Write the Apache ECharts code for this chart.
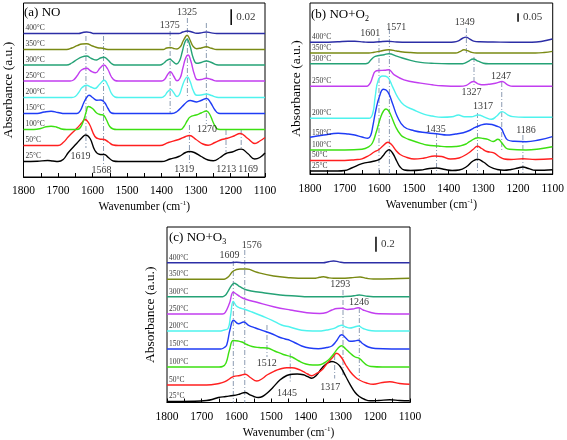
<!DOCTYPE html>
<html><head><meta charset="utf-8">
<script src="https://cdn.jsdelivr.net/npm/echarts@6/dist/echarts.min.js"></script>
<style>html,body{margin:0;padding:0;background:#fff}#c{width:567px;height:440px}</style>
</head><body><div id="c"></div>
<script>
// ---------- shared ----------
const temps = ['25°C','50°C','100°C','150°C','200°C','250°C','300°C','350°C','400°C'];
const tempColors = ['#000000','#ff1f1f','#3ce012','#1f3cf5','#4ff3ee','#c23ef0','#25a276','#7a8a14','#2c2ea6'];
const xMin = 1100, xMax = 1800, xStep = 100;

// ---------- panel (a) NO : [wavenumber, absorbance a.u. above own baseline] ----------
const offsetsA = [15.5,31.5,47.5,63.5,79.5,96,112,127.5,143.5];
const a25 = [[1800,0],[1760,0.3],[1730,1],[1715,0.5],[1700,0],[1685,2],[1670,9],[1646,18],[1630,24],[1620,26.5],[1607,23],[1593,11],[1578,7],[1566,7],[1554,4],[1540,0.5],[1525,0],[1400,0],[1375,2.5],[1350,5],[1330,9],[1319,10],[1305,9],[1285,5],[1265,1.5],[1250,0.8],[1230,4],[1213,8],[1195,9.5],[1169,12.4],[1150,8],[1130,2.5],[1115,4],[1100,8.5]];
const a50 = [[1800,0],[1700,0],[1685,3],[1670,8.7],[1646,17],[1630,23],[1622,26],[1610,22],[1593,9],[1580,6.5],[1566,6],[1554,3.5],[1540,0.5],[1525,0],[1405,0],[1380,3],[1350,6],[1330,9],[1319,10],[1300,6],[1280,1.5],[1265,0.3],[1245,3],[1225,6],[1211,7],[1190,9.5],[1172,12],[1150,7],[1129,2],[1115,4.5],[1100,8]];
const a100 = [[1800,0],[1770,0],[1750,1],[1735,2.8],[1720,3.3],[1705,2.5],[1690,0.5],[1675,0],[1645,0],[1635,2],[1625,10],[1618,18],[1612,23],[1600,21],[1588,16.5],[1578,15],[1569,14.5],[1560,10],[1550,3],[1540,0.5],[1530,0],[1345,0],[1335,3],[1325,9],[1317,12.5],[1300,14.5],[1285,16.5],[1270,18.5],[1260,15],[1250,7],[1240,1],[1230,0],[1100,0]];
const a150 = [[1800,0],[1760,0],[1740,1.5],[1720,2.3],[1700,1],[1680,0],[1645,0],[1635,3],[1625,11],[1617,16],[1610,18.3],[1600,16],[1588,13.3],[1576,13.5],[1565,11],[1555,5],[1545,0.5],[1535,0],[1370,0],[1355,2],[1340,7],[1325,12],[1317,13],[1298,11.5],[1285,13],[1269,15],[1258,11],[1245,3.5],[1235,0.3],[1225,0],[1100,0]];
const a200 = [[1800,0],[1660,0],[1650,1],[1640,5],[1630,10],[1617,12.3],[1605,10.5],[1593,9],[1580,13],[1566,17.3],[1555,12],[1545,4],[1535,0.5],[1525,0],[1400,0],[1390,2],[1383,5.5],[1373,8],[1365,5],[1355,1],[1348,3],[1340,11],[1332,18],[1325,20.6],[1317,16],[1308,7],[1298,2.3],[1285,2.5],[1270,3.5],[1255,2],[1240,0.3],[1230,0],[1100,0]];
const a250 = [[1800,0],[1665,0],[1655,1],[1645,5],[1632,11],[1617,12.7],[1605,10],[1591,8.3],[1578,13],[1567,16],[1556,12],[1545,4],[1535,0.5],[1525,0],[1400,0],[1390,2],[1383,6],[1374,9.3],[1365,5],[1355,0.3],[1346,3],[1338,13],[1330,23],[1323,26],[1315,20],[1305,7],[1296,1.2],[1285,1.5],[1270,2.8],[1255,1.5],[1240,0],[1100,0]];
const a300 = [[1800,0],[1675,0],[1660,2],[1645,5.5],[1630,8.2],[1617,9],[1603,6.5],[1588,5],[1577,7],[1567,7.7],[1555,5],[1545,1.5],[1535,0],[1405,0],[1393,2],[1385,4.5],[1376,5.7],[1367,3.5],[1357,1],[1348,4],[1340,13],[1333,22],[1326,25.7],[1318,20],[1308,7],[1298,1.7],[1285,2.5],[1270,4],[1255,2.5],[1240,0.2],[1230,0],[1100,0]];
const a350 = [[1800,0],[1675,0],[1660,1.5],[1645,3.8],[1630,5.5],[1617,5.7],[1600,3.5],[1585,1.8],[1570,1.2],[1560,0.3],[1550,0],[1395,0],[1385,1.5],[1375,2],[1365,1],[1355,0.5],[1345,3],[1338,8],[1330,13],[1326,14.3],[1318,10],[1308,3],[1298,0.8],[1285,1.5],[1270,2.7],[1255,1.2],[1240,0],[1100,0]];
const a400 = [[1800,0],[1640,0],[1628,1],[1617,1.5],[1606,1],[1595,0],[1350,0],[1338,1.5],[1325,2.5],[1312,1.5],[1298,0.2],[1285,0.6],[1270,1.5],[1256,0.6],[1240,0],[1100,0]];
const guidesA = [[1619,141,29],[1568,141,11],[1375,146,64],[1325,159,80],[1270,154,53],[1319,52,14],[1213,47,25],[1169,47,27]];
const notesA = [[1635,21,'1619'],[1574,7,'1568'],[1376,152,'1375'],[1326,164.5,'1325'],[1268,47.5,'1270'],[1334,7.5,'1319'],[1212,7.5,'1213'],[1149,7.5,'1169']];
const barA = [1198,152,167.7,'0.02'];

// ---------- panel (b) NO+O2 ----------
const offsetsB = [3,13.5,24,35.5,55.7,87.7,110.3,121,131.7];
const b25 = [[1800,0],[1720,0],[1700,0.5],[1680,3],[1650,7.3],[1620,9.5],[1601,11.3],[1590,15],[1580,19.5],[1572,21.3],[1562,18],[1550,10],[1540,4],[1528,1],[1510,0.5],[1480,1],[1460,2.3],[1435,3],[1410,1.5],[1390,0.5],[1370,1],[1350,4],[1330,10],[1317,11.7],[1300,9],[1280,4],[1260,1.5],[1240,0.7],[1220,1.5],[1200,3],[1186,4],[1170,2.5],[1150,0.7],[1125,0.8],[1100,1.3]];
const b50 = [[1800,0],[1700,0],[1670,0.8],[1650,1.7],[1630,5],[1615,8.5],[1601,11],[1590,14.5],[1575,18.3],[1565,16],[1552,10],[1540,6],[1520,3],[1500,1.5],[1470,2.5],[1440,4.5],[1420,4],[1395,1.5],[1370,2.5],[1345,7],[1330,11],[1317,14.3],[1305,12],[1290,9],[1270,7.7],[1255,4],[1240,1.5],[1220,1],[1186,1.7],[1150,1],[1100,1.7]];
const b100 = [[1800,0],[1700,0],[1650,0.7],[1630,3.3],[1620,7],[1610,16.7],[1596,33],[1588,39],[1581,41],[1574,39.5],[1567,35],[1553,23.3],[1538,15],[1525,12],[1510,10],[1481,6.7],[1463,5],[1430,4],[1406,3.3],[1380,3.5],[1368,4],[1350,6],[1340,8.3],[1315,12.3],[1300,11.5],[1287,10.7],[1272,8.5],[1258,10.7],[1246,6.7],[1235,2],[1225,0.7],[1177,0],[1140,1],[1101,3.3]];
const b150 = [[1800,1.2],[1760,3.5],[1719,5.2],[1690,4.5],[1671,3.5],[1650,1.5],[1633,0.2],[1625,3],[1619,12],[1610,28.5],[1600,41.8],[1588,49.2],[1576,46.8],[1562,35],[1548,21.8],[1529,11.8],[1500,7.8],[1463,5.8],[1430,4.5],[1406,3.5],[1380,4.5],[1358,5.8],[1340,8],[1329,10.2],[1310,13],[1291,14.5],[1275,14],[1263,12.5],[1249,10.2],[1240,4],[1230,-1.5],[1210,-2.8],[1177,-3.2],[1140,-1.5],[1101,1.8]];
const b200 = [[1800,0],[1630,0],[1619,5],[1612,21.7],[1603,38.3],[1590,42.3],[1576,41],[1562,31.7],[1548,21.7],[1529,13.3],[1500,8.3],[1470,4],[1448,2.3],[1420,1],[1390,1.5],[1372,3.3],[1355,1.5],[1335,1.5],[1315,3.3],[1295,1],[1277,-1],[1262,2],[1246,6.7],[1230,3.5],[1215,1.7],[1180,1],[1101,1]];
const b250 = [[1800,0],[1640,0],[1633,0.5],[1625,4],[1619,9.8],[1612,14.8],[1600,15.8],[1585,16],[1573,16.5],[1557,11.5],[1529,6.5],[1481,3.2],[1448,1.5],[1420,0.5],[1368,0],[1349,1],[1329,4.8],[1315,2.5],[1306,1.5],[1285,2],[1265,3],[1246,4.8],[1230,1.5],[1215,0],[1101,0]];
const b300 = [[1800,0],[1640,0],[1633,0.5],[1624,4],[1612,7.3],[1586,9],[1573,10],[1548,7.3],[1510,3.3],[1481,1.3],[1450,0.5],[1400,0],[1360,0],[1345,2],[1329,4.7],[1315,2.5],[1300,0.5],[1285,0],[1101,0]];
const b350 = [[1800,0],[1630,0],[1615,0.8],[1600,1.6],[1573,3.3],[1550,2],[1538,1.3],[1510,0.5],[1480,0],[1380,0],[1368,1.3],[1356,3.2],[1346,2.4],[1335,0.8],[1320,0],[1150,0],[1125,0.5],[1101,1.6]];
const b400 = [[1800,0],[1760,0],[1720,0.5],[1690,1],[1671,1],[1645,0.3],[1624,0],[1600,0.5],[1576,1],[1550,0.3],[1520,0],[1400,0],[1385,0.3],[1372,1.5],[1361,3.8],[1350,5.2],[1340,3.5],[1328,1.2],[1310,0.5],[1272,0.3],[1220,0],[1160,0],[1130,1],[1101,3.3]];
const guidesB = [[1601,136,0],[1571,145,0],[1349,146,121],[1327,117,87],[1247,92,24],[1317,61,0],[1435,41,0],[1186,39,0]];
const notesB = [[1626,140.5,'1601'],[1551,146.5,'1571'],[1354,151.5,'1349'],[1334,81.5,'1327'],[1249,98,'1247'],[1301,67.3,'1317'],[1437,45,'1435'],[1177,43.5,'1186']];
const barB = [1200,152.3,160.7,'0.05'];

// ---------- panel (c) NO+O3 ----------
const offsetsC = [1,17.5,35.5,53.5,71.5,88.5,105.8,123.2,139.8];
const c25 = [[1800,0],[1720,0.3],[1686,1],[1670,2],[1652,4],[1630,5],[1609,6],[1590,7.5],[1575,9],[1561,6.7],[1550,5],[1537,4],[1525,5],[1512,8.3],[1495,14],[1474,21.7],[1455,26],[1440,27.3],[1425,27.5],[1407,26.7],[1395,25],[1383,23.3],[1370,26],[1354,33.3],[1340,38],[1325,40],[1312,38.5],[1301,35],[1285,25],[1272,16.7],[1258,9],[1246,5],[1230,2],[1215,0.7],[1190,1],[1158,1.7],[1130,1],[1101,0.7]];
const c50 = [[1800,0],[1686,0],[1650,1.5],[1633,3.3],[1609,8.3],[1590,9.5],[1575,10.7],[1560,7.5],[1541,4],[1525,6.5],[1512,10],[1490,14],[1474,16],[1455,17.3],[1440,17.3],[1420,15.5],[1407,13.3],[1395,11],[1383,9.3],[1370,11.5],[1354,15],[1340,21],[1325,26.7],[1311,31.7],[1296,26.7],[1285,20],[1272,13.3],[1258,8],[1246,5],[1225,2],[1206,0.7],[1180,2.5],[1158,3.3],[1130,1.5],[1101,0.7]];
const c100 = [[1800,0],[1650,0],[1640,0.5],[1630,4],[1620,17],[1609,26.5],[1595,26],[1584,25],[1570,22.5],[1555,20.5],[1535,19.5],[1512,19],[1490,16],[1465,12.5],[1440,10],[1420,6],[1400,3],[1380,2],[1365,2],[1350,3.5],[1335,7],[1320,13],[1308,18.5],[1297,21.3],[1285,18],[1272,13.7],[1258,10],[1246,8.7],[1235,5],[1222,1.5],[1210,0.5],[1180,0],[1101,0]];
const c150 = [[1800,0],[1645,0],[1635,1.5],[1628,4],[1618,20],[1608,28.7],[1594,25.3],[1579,27],[1565,23.7],[1545,21],[1526,18.7],[1500,15.5],[1478,12],[1460,10],[1446,8.7],[1430,6],[1412,3],[1390,1],[1364,0.3],[1340,1.5],[1325,3],[1312,8],[1297,14.3],[1285,11],[1273,7.7],[1260,8],[1249,8.7],[1237,5.5],[1220,2],[1200,0.5],[1101,0]];
const c200 = [[1800,0],[1645,0],[1635,1],[1624,2.5],[1617,15],[1609,29.5],[1600,25],[1590,23],[1579,22],[1555,19],[1526,15],[1497,10.7],[1470,6],[1446,4],[1412,0.7],[1380,0],[1364,0],[1340,1],[1321,2.3],[1305,5],[1297,5.7],[1285,4],[1273,3],[1260,4],[1249,5],[1235,2.5],[1220,0.7],[1200,0],[1101,0]];
const c250 = [[1800,0],[1640,0],[1632,1.7],[1620,10.7],[1609,21.7],[1599,19.7],[1590,17.5],[1575,15],[1541,11.7],[1493,7.3],[1445,4],[1397,1.3],[1360,0.5],[1340,1.5],[1325,4],[1310,5.5],[1296,5.7],[1280,4.5],[1265,5],[1249,6.3],[1235,4],[1215,1.7],[1190,0.3],[1101,0]];
const c300 = [[1800,0],[1640,0],[1632,1.5],[1626,4.4],[1613,11.7],[1606,13.4],[1598,12],[1590,10],[1570,6.7],[1532,4.4],[1474,1.7],[1420,0.5],[1397,0],[1300,0],[1270,0.5],[1255,1.3],[1246,1.7],[1230,0.8],[1206,0],[1101,0]];
const c350 = [[1800,0],[1640,0],[1632,0.5],[1623,2.6],[1609,8.3],[1590,10.3],[1570,10.3],[1541,7],[1493,3.3],[1445,1.6],[1400,1],[1378,1],[1360,2],[1349,2.6],[1335,1.5],[1320,1],[1296,1],[1270,1.5],[1244,2.3],[1225,1],[1206,0.3],[1150,0.5],[1101,1]];
const c400 = [[1800,0],[1620,0],[1600,0.5],[1580,0],[1350,0],[1335,1],[1320,1.7],[1305,0.8],[1290,0],[1101,0]];
const guidesC = [[1609,141.5,0],[1576,152.5,0],[1512,77.5,45.5],[1445,49,20.5],[1317,47.5,24],[1293,112.5,27.5],[1246,94.5,23.8]];
const notesC = [[1620,146.8,'1609'],[1556,156.8,'1576'],[1513,39.2,'1512'],[1454,9.2,'1445'],[1330,14.8,'1317'],[1301,117.8,'1293'],[1247,99.8,'1246']];
const barC = [1198,150.8,165.8,'0.2'];

// ---------- build ----------
const FONT = '"Liberation Serif","Times New Roman",serif';
const grids = [
  {left:23, top:3, width:242, height:174},
  {left:310, top:3, width:245, height:171},
  {left:167, top:227, width:243, height:175.5}
];
const yMaxes = [174, 171, 175.5];
const labelMargins = [8, 9, 8];
const nameGaps = [22.5, 23.5, 23];
const yNameGaps = [8.5, 7, 10];

const panels = [
  {spectra:[a25,a50,a100,a150,a200,a250,a300,a350,a400], offsets:offsetsA, guides:guidesA, notes:notesA, bar:barA},
  {spectra:[b25,b50,b100,b150,b200,b250,b300,b350,b400], offsets:offsetsB, guides:guidesB, notes:notesB, bar:barB},
  {spectra:[c25,c50,c100,c150,c200,c250,c300,c350,c400], offsets:offsetsC, guides:guidesC, notes:notesC, bar:barC}
];

const series = [];
const xAxes = [], yAxes = [];
panels.forEach((p, i) => {
  xAxes.push({
    gridIndex:i, type:'value', min:xMin, max:xMax, interval:xStep, inverse:true,
    axisLine:{lineStyle:{color:'#000', width:1}},
    axisTick:{inside:true, length:4, lineStyle:{color:'#000'}},
    minorTick:{show:true, splitNumber:2, length:4, lineStyle:{color:'#000'}},
    splitLine:{show:false},
    axisLabel:{color:'#000', fontFamily:FONT, fontSize:11.5, margin:labelMargins[i], formatter:v => String(v)},
    name:'{n|Wavenumber (cm}{s|-1}{n|)}', nameLocation:'middle', nameGap:nameGaps[i],
    nameTextStyle:{rich:{
      n:{fontFamily:FONT, fontSize:11.5, color:'#000', lineHeight:14},
      s:{fontFamily:FONT, fontSize:7, color:'#000', lineHeight:7, verticalAlign:'top'}
    }}
  });
  yAxes.push({
    gridIndex:i, type:'value', min:0, max:yMaxes[i],
    axisLine:{show:false}, axisTick:{show:false}, axisLabel:{show:false}, splitLine:{show:false},
    name:'Absorbance (a.u.)', nameLocation:'middle', nameGap:yNameGaps[i],
    nameTextStyle:{fontFamily:FONT, fontSize:13.5, color:'#000'}
  });
  p.guides.forEach(g => {
    series.push({type:'line', xAxisIndex:i, yAxisIndex:i, data:[[g[0],g[1]],[g[0],g[2]]],
      symbol:'none', silent:true, z:1,
      lineStyle:{color:'#8b9bb2', width:1, type:[5,2,1,2]}});
  });
  p.spectra.forEach((s, k) => {
    series.push({type:'line', xAxisIndex:i, yAxisIndex:i,
      data:s.map(d => [d[0], d[1] + p.offsets[k]]),
      symbol:'none', smooth:0.45, silent:true, z:3,
      lineStyle:{color:tempColors[k], width:1.4}});
  });
  series.push({type:'scatter', xAxisIndex:i, yAxisIndex:i, symbolSize:0, silent:true, z:4,
    data:temps.map((t, k) => ({value:[xMax, p.offsets[k]], name:t})),
    label:{show:true, position:[2,-9], formatter:'{b}', fontFamily:FONT, fontSize:7.5, color:'#000'}});
  series.push({type:'scatter', xAxisIndex:i, yAxisIndex:i, symbolSize:0, silent:true, z:4,
    data:p.notes.map(n => ({value:[n[0], n[1]], name:n[2]})),
    label:{show:true, position:'inside', formatter:'{b}', fontFamily:FONT, fontSize:10, color:'#000'}});
  series.push({type:'line', xAxisIndex:i, yAxisIndex:i, data:[[p.bar[0],p.bar[1]],[p.bar[0],p.bar[2]]],
    symbol:'none', silent:true, lineStyle:{color:'#000', width:1.5}});
  series.push({type:'scatter', xAxisIndex:i, yAxisIndex:i, symbolSize:0, silent:true,
    data:[{value:[p.bar[0], (p.bar[1]+p.bar[2])/2], name:p.bar[3]}],
    label:{show:true, position:'right', distance:5, formatter:'{b}', fontFamily:FONT, fontSize:11, color:'#000'}});
});

const titleStyle = {fontFamily:FONT, fontSize:13, fontWeight:'normal', color:'#000',
  rich:{n:{fontFamily:FONT, fontSize:13, color:'#000', lineHeight:16},
        s:{fontFamily:FONT, fontSize:8, color:'#000', lineHeight:8, verticalAlign:'bottom'}}};
const option = {
  backgroundColor:'#fff', animation:false,
  grid: grids.map(g => Object.assign({show:true, borderColor:'#000', borderWidth:1, backgroundColor:'transparent'}, g)),
  title:[
    {text:'{n|(a) NO}', left:24, top:5, padding:0, textStyle:titleStyle},
    {text:'{n|(b) NO+O}{s|2}', left:311, top:7, padding:0, textStyle:titleStyle},
    {text:'{n|(c) NO+O}{s|3}', left:169, top:230, padding:0, textStyle:titleStyle}
  ],
  xAxis:xAxes, yAxis:yAxes, series:series
};
const chart = echarts.init(document.getElementById('c'), null, {renderer:'canvas'});
chart.setOption(option);
</script></body></html>
